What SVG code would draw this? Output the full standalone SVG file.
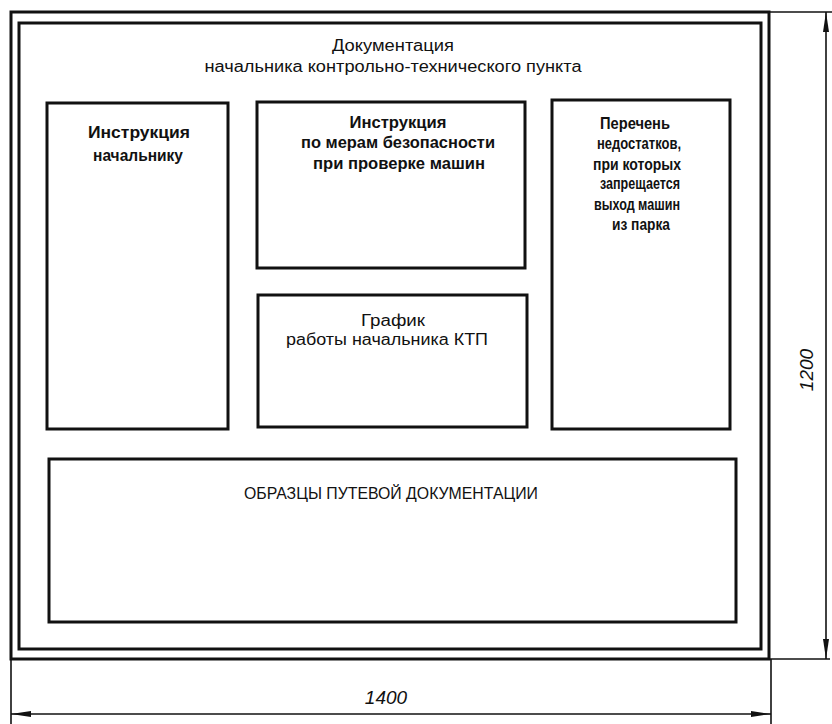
<svg xmlns="http://www.w3.org/2000/svg" width="832" height="724" viewBox="0 0 832 724">
<defs>
<style>
.frame{fill:none;stroke:#111;stroke-width:3}
.box{fill:none;stroke:#111;stroke-width:3}
.dim{fill:none;stroke:#111;stroke-width:1.6}
.t{font-family:"Liberation Sans","DejaVu Sans",sans-serif;font-size:16px;fill:#111;text-anchor:middle}
.b{font-weight:bold}
.n{font-family:"Liberation Sans","DejaVu Sans",sans-serif;font-size:19px;font-style:italic;fill:#111;text-anchor:middle}
</style>
<marker id="ah" viewBox="0 0 20 8" refX="20" refY="4" markerWidth="20" markerHeight="8" markerUnits="userSpaceOnUse" orient="auto-start-reverse">
<path d="M0,1 L20,4 L0,7 Z" fill="#111"/>
</marker>
</defs>
<rect width="832" height="724" fill="#fff"/>
<g id="frame">
<rect class="frame" x="11" y="12" width="758" height="647"/>
<rect class="frame" x="19" y="23" width="742" height="626"/>
<text class="t" x="393" y="51" textLength="122" lengthAdjust="spacingAndGlyphs">Документация</text>
<text class="t" x="393" y="72" textLength="377" lengthAdjust="spacingAndGlyphs">начальника контрольно-технического пункта</text>
</g>
<g id="box1">
<rect class="box" x="47" y="103" width="181" height="326"/>
<text class="t b" x="139" y="138" textLength="102" lengthAdjust="spacingAndGlyphs">Инструкция</text>
<text class="t b" x="138" y="161" textLength="90" lengthAdjust="spacingAndGlyphs">начальнику</text>
</g>
<g id="box2">
<rect class="box" x="257" y="102" width="268" height="166"/>
<text class="t b" x="398" y="128" textLength="97" lengthAdjust="spacingAndGlyphs">Инструкция</text>
<text class="t b" x="398" y="148" textLength="194" lengthAdjust="spacingAndGlyphs">по мерам безопасности</text>
<text class="t b" x="399" y="169" textLength="172" lengthAdjust="spacingAndGlyphs">при проверке машин</text>
</g>
<g id="box3">
<rect class="box" x="552" y="100" width="178" height="329"/>
<text class="t b" x="635" y="129" textLength="70" lengthAdjust="spacingAndGlyphs">Перечень</text>
<text class="t b" x="639" y="149" textLength="84" lengthAdjust="spacingAndGlyphs">недостатков,</text>
<text class="t b" x="637" y="170" textLength="88" lengthAdjust="spacingAndGlyphs">при которых</text>
<text class="t b" x="640" y="189" textLength="80" lengthAdjust="spacingAndGlyphs">запрещается</text>
<text class="t b" x="637" y="210" textLength="86" lengthAdjust="spacingAndGlyphs">выход машин</text>
<text class="t b" x="641" y="230" textLength="58" lengthAdjust="spacingAndGlyphs">из парка</text>
</g>
<g id="box4">
<rect class="box" x="258" y="295" width="269" height="132"/>
<text class="t" x="393" y="326" textLength="64" lengthAdjust="spacingAndGlyphs">График</text>
<text class="t" x="387" y="345" textLength="202" lengthAdjust="spacingAndGlyphs">работы начальника КТП</text>
</g>
<g id="box5">
<rect class="box" x="49" y="459" width="687" height="163"/>
<text class="t" x="391" y="499" textLength="294" lengthAdjust="spacingAndGlyphs">ОБРАЗЦЫ ПУТЕВОЙ ДОКУМЕНТАЦИИ</text>
</g>
<g id="connectors">
<line class="dim" x1="769" y1="12" x2="832" y2="12"/>
<line class="dim" x1="769" y1="659" x2="830" y2="659"/>
<line class="dim" x1="826" y1="12" x2="826" y2="659" marker-start="url(#ah)" marker-end="url(#ah)"/>
<line class="dim" x1="11" y1="659" x2="11" y2="724"/>
<line class="dim" x1="771" y1="659" x2="771" y2="724"/>
<line class="dim" x1="11" y1="714" x2="771" y2="714" marker-start="url(#ah)" marker-end="url(#ah)"/>
</g>
<g id="dims">
<text class="n" x="386" y="704">1400</text>
<text class="n" transform="translate(813,370) rotate(-90)">1200</text>
</g>
</svg>
